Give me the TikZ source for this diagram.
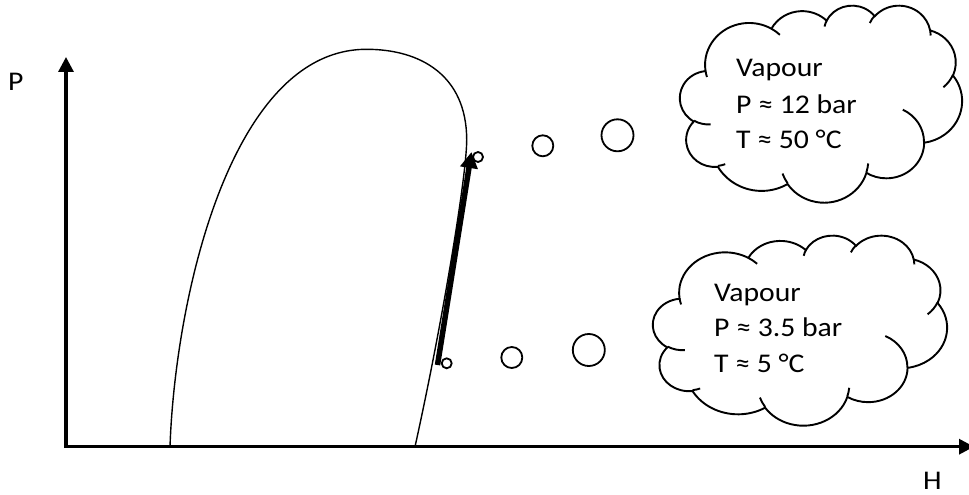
\documentclass[tikz,border=0pt]{standalone}
\usepackage{fontspec}
\setmainfont{Carlito}[FakeStretch=1.1]
\usetikzlibrary{arrows.meta}

% DrawingML-style elliptic arc: radii, visual start angle, sweep
\newcommand\cldarc[4]{arc[x radius=#1, y radius=#2,
  start angle={atan2((#1)*sin(#3),(#2)*cos(#3))},
  delta angle={mod(atan2((#1)*sin((#3)+(#4)),(#2)*cos((#3)+(#4)))-atan2((#1)*sin(#3),(#2)*cos(#3))+720,360)}]}

\newcommand\drawcloud{%
  \draw[cloudline, fill=white] (9.028,33.264)
    \cldarc{15.632}{21.273}{-190.4875}{123.7805}
    \cldarc{12.345}{16.822}{-144.1024}{89.9452}
    \cldarc{10.104}{13.762}{-145.8079}{99.7230}
    \cldarc{11.243}{15.266}{-130.9861}{117.2417}
    \cldarc{12.345}{16.836}{-78.7089}{109.0269}
    \cldarc{15.683}{21.343}{-46.2673}{130.2690}
    \cldarc{13.391}{18.211}{0.6250}{114.0333}
    \cldarc{15.630}{21.331}{22.4516}{115.1726}
    \cldarc{17.870}{24.405}{66.2426}{75.7110}
    \cldarc{10.093}{13.699}{-274.9421}{146.7356}
    \cldarc{10.058}{13.762}{-246.8285}{152.5189}
    -- cycle;
  \draw[cloudline]
    (10.863,60.595) \cldarc{10.058}{13.762}{86.742}{26.4295}
    (16.037,80.785) \cldarc{10.093}{13.699}{73.6033}{11.4546}
    (38.144,90.486) \cldarc{15.630}{21.331}{137.6241}{17.2378}
    (66.729,80.442) \cldarc{15.630}{21.331}{6.4517}{15.9999}
    (79.002,53.134) \cldarc{13.391}{18.211}{-70.2861}{70.9258}
    (96.755,35.542) \cldarc{12.345}{16.836}{30.318}{27.7515}
    (88.713,12.560) \cldarc{11.243}{15.266}{-13.7443}{14.8546}
    (67.310,9.148) \cldarc{11.243}{15.266}{-149.1815}{18.1871}
    (51.252,10.926) \cldarc{10.104}{13.762}{-163.4943}{17.6864}
    (32.407,12.019) \cldarc{15.632}{21.273}{-66.707}{12.3194}
    (9.553,36.549) \cldarc{15.632}{21.273}{157.6544}{11.8582};
}

\tikzset{axtip/.tip={Triangle[length=15pt, width=15pt]}}

\begin{document}
\begin{tikzpicture}[x=1pt, y=-1pt,
  axis/.style={line width=3.2pt, line join=miter},
  dome/.style={line width=1.4pt},
  cloudline/.style={line width=1.9pt},
  bub/.style={circle, draw, line width=1.8pt, inner sep=0pt},
  lbl/.style={inner sep=0pt, anchor=base west, font=\fontsize{27}{33}\selectfont},
  bigarrow/.style={line width=5.5pt, -{Triangle[length=16pt, width=17pt]}}
]
\useasboundingbox (0,0) rectangle (969,495);

% axes
\coordinate (O) at (66,446.7);
\coordinate (Ytip) at (66,57);
\coordinate (Xtip) at (974,446.7);
\draw[axis, axtip-axtip] (Ytip) -- (O) -- (Xtip);
\node[lbl] (Plab) at (8,91) {P};
\node[lbl] (Hlab) at (923,489.5) {H};

% saturation dome
\coordinate (d0) at (170,446.7);
\coordinate (dtop) at (366.7,49.3);
\coordinate (dr) at (466.7,140);
\coordinate (d1) at (415,446.7);
\draw[dome] (d0) .. controls (175,300) and (230,49) .. (dtop)
  .. controls (420,49.3) and (466.7,75) .. (dr)
  .. controls (466.7,175) and (443,320) .. (d1);

% compression arrow
\coordinate (a1) at (437.5,365);
\coordinate (a2) at (471.5,152);
\draw[bigarrow] (a1) -- (a2);

% thought bubbles
\node[bub, minimum size=10pt] (s1) at (478,157) {};
\node[bub, minimum size=21pt] (m1) at (542.8,145.8) {};
\node[bub, minimum size=32pt] (l1) at (617.5,135.3) {};
\node[bub, minimum size=10pt] (s2) at (446.7,363.3) {};
\node[bub, minimum size=21pt] (m2) at (511.8,357.5) {};
\node[bub, minimum size=32pt] (l2) at (588.8,350) {};

% clouds
\begin{scope}[shift={(680,5)}, x=2.82pt, y=-1.97pt]
  \drawcloud
\end{scope}
\begin{scope}[shift={(653,235)}, x=2.94pt, y=-1.90pt]
  \drawcloud
\end{scope}

% cloud texts
\node[lbl] (u1) at (736,76.7) {Vapour};
\node[lbl] (u2) at (736,113.3) {P ≈ 12 bar};
\node[lbl] (u3) at (736,148.3) {T ≈ 50 °C};
\node[lbl] (t1) at (714,301.7) {Vapour};
\node[lbl] (t2) at (714,336.7) {P ≈ 3.5 bar};
\node[lbl] (t3) at (714,372.3) {T ≈ 5 °C};
\end{tikzpicture}
\end{document}
